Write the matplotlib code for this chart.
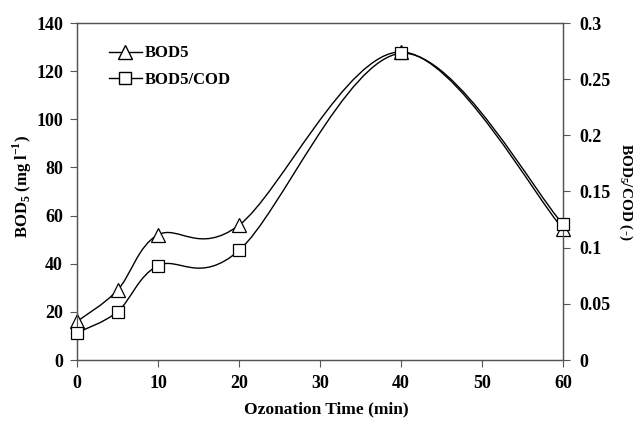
import numpy as np
import matplotlib
matplotlib.use("Agg")
import matplotlib.pyplot as plt
from matplotlib.path import Path
from matplotlib.patches import PathPatch

plt.rcParams['font.family'] = ['Liberation Serif', 'DejaVu Serif']
plt.rcParams['font.weight'] = 'bold'
plt.rcParams['mathtext.fontset'] = 'custom'
plt.rcParams['mathtext.rm'] = 'Liberation Serif:bold'
plt.rcParams['mathtext.bf'] = 'Liberation Serif:bold'

time_min = [0, 5, 10, 20, 40, 60]
bod5 = [16, 29, 52, 56, 128, 54.5]
bod5_cod = [0.0242, 0.043, 0.084, 0.0975, 0.273, 0.121]
x_ticks = [0, 10, 20, 30, 40, 50, 60]
left_ticks = [0, 20, 40, 60, 80, 100, 120, 140]
right_ticks = [0, 0.05, 0.1, 0.15, 0.2, 0.25, 0.3]
right_labels = ['0', '0.05', '0.1', '0.15', '0.2', '0.25', '0.3']


def smooth_path(xs, ys):
    xs = np.asarray(xs, float)
    ys = np.asarray(ys, float)
    n = len(xs)
    verts = [(xs[0], ys[0])]
    codes = [Path.MOVETO]
    for i in range(n - 1):
        p0 = i - 1 if i > 0 else i
        p3 = i + 2 if i + 2 < n else i + 1
        c1 = (xs[i] + (xs[i + 1] - xs[p0]) / 6, ys[i] + (ys[i + 1] - ys[p0]) / 6)
        c2 = (xs[i + 1] - (xs[p3] - xs[i]) / 6, ys[i + 1] - (ys[p3] - ys[i]) / 6)
        verts += [c1, c2, (xs[i + 1], ys[i + 1])]
        codes += [Path.CURVE4] * 3
    return Path(verts, codes)


fig = plt.figure(figsize=(6.35, 4.23), dpi=100)
ax = fig.add_axes([77 / 635, 1 - 360 / 423, (563 - 77) / 635, (360 - 23) / 423])
ax2 = ax.twinx()

ax.set_xlim(0, 60)
ax.set_ylim(0, 140)
ax2.set_ylim(0, 0.3)

ax.add_patch(PathPatch(smooth_path(time_min, bod5), fill=False, lw=1.0,
                       color='black', zorder=2))
ax2.add_patch(PathPatch(smooth_path(time_min, bod5_cod), fill=False, lw=1.0,
                        color='black', zorder=2))
ax.plot(time_min, bod5, linestyle='none', marker='^', markersize=10,
        markerfacecolor='white', markeredgecolor='black', markeredgewidth=0.9,
        zorder=3, clip_on=False)
ax2.plot(time_min, bod5_cod, linestyle='none', marker='s', markersize=9,
         markerfacecolor='white', markeredgecolor='black', markeredgewidth=0.9,
         zorder=3, clip_on=False)

# legend handles
h1, = ax.plot([], [], color='black', lw=1.0, marker='^', markersize=10,
              markerfacecolor='white', markeredgecolor='black')
h2, = ax.plot([], [], color='black', lw=1.0, marker='s', markersize=9,
              markerfacecolor='white', markeredgecolor='black')
ax2.legend([h1, h2], ['BOD5', 'BOD5/COD'], loc='upper left',
           bbox_to_anchor=(0.034, 0.978), frameon=False,
           handlelength=2.0, handletextpad=0.2, labelspacing=0.65,
           prop={'weight': 'bold', 'size': 12})

for a in (ax, ax2):
    for s in a.spines.values():
        s.set_color('#555555')
        s.set_linewidth(0.9)

ax.set_xticks(x_ticks)
ax.set_yticks(left_ticks)
ax2.set_yticks(right_ticks)
ax2.set_yticklabels(right_labels)
ax.tick_params(axis='x', direction='out', length=5, width=0.8, labelsize=13,
               pad=6, color='#555555')
ax.tick_params(axis='y', direction='out', length=5, width=0.8, labelsize=13,
               pad=5, color='#555555')
ax2.tick_params(direction='out', length=5, width=0.8, labelsize=13, pad=7,
                color='#555555')
for lab in ax.get_xticklabels() + ax.get_yticklabels() + ax2.get_yticklabels():
    lab.set_fontweight('bold')

ax.set_xlabel('Ozonation Time (min)', fontsize=12.5, fontweight='bold',
              va='center')
ax.xaxis.set_label_coords(0.513, -0.148)
ax.set_ylabel(r'BOD$_5$ (mg l$^{-1}$)', fontsize=12, fontweight='bold',
              va='center')
ax.yaxis.set_label_coords(-0.113, 0.516)
ax2.set_ylabel(r'BOD$_5$/COD (-)', fontsize=11, fontweight='bold',
               rotation=270, va='center')
ax2.yaxis.set_label_coords(1.128, 0.5)

fig.savefig('out.png', dpi=100)
